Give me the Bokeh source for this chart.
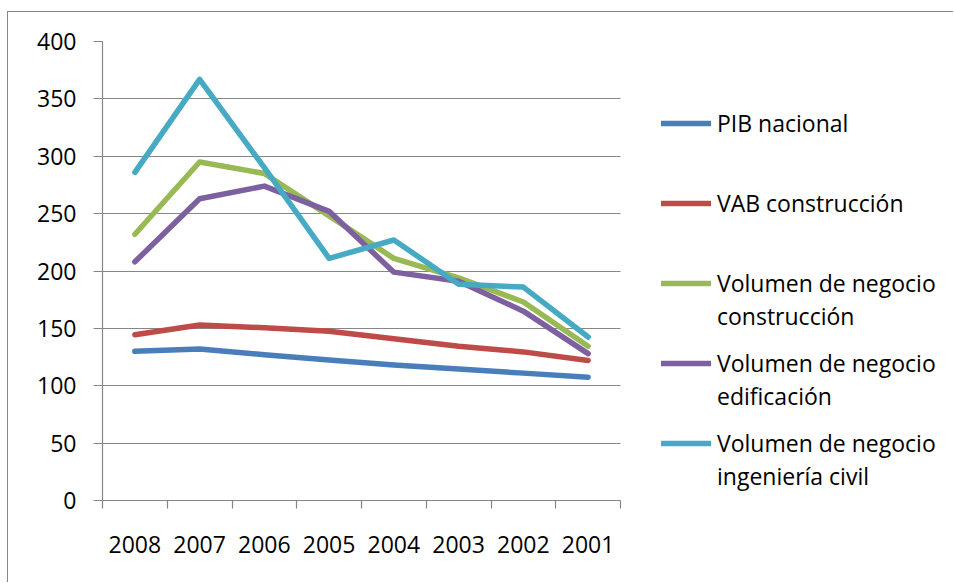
from bokeh.plotting import figure
from bokeh.models import Range1d, FixedTicker, Legend, LegendItem
from bokeh.embed import file_html
from bokeh.resources import INLINE

# ---- data ----
years = ["2008", "2007", "2006", "2005", "2004", "2003", "2002", "2001"]
pib_nacional = [130, 132, 127, 122.5, 118, 114.5, 111, 107.5]
vab_construccion = [144.5, 153, 150.5, 147.5, 141, 134.5, 129.5, 122]
vol_construccion = [232, 295, 285, 248, 211, 194, 173, 134.5]
vol_edificacion = [208, 263, 274, 252, 199, 191, 165, 128]
vol_ingenieria = [286, 367, 290, 211, 227, 188.5, 186, 142.5]
y_ticks = [0, 50, 100, 150, 200, 250, 300, 350, 400]

names_line1 = ["PIB nacional", "VAB construcción", "Volumen de negocio",
               "Volumen de negocio", "Volumen de negocio"]
names_line2 = ["construcción", "edificación", "ingeniería civil"]
colors = ["#4A7EBB", "#BE4B48", "#98B954", "#7D60A0", "#46AAC5"]
series = [pib_nacional, vab_construccion, vol_construccion, vol_edificacion, vol_ingenieria]

FONT = "Open Sans"
GRAY = "#868686"

n = len(years)
x = [i + 0.5 for i in range(n)]
bounds = list(range(n + 1))

# layout (pixels)
W, H = 946, 571
BL, BR, BT, BB = 94, 5, 29, 83
frame_w = W - BL - BR
plot_w = 518  # width of the category area
x_end = n * frame_w / plot_w

p = figure(width=W, height=H, output_backend="svg", toolbar_location=None,
           x_range=Range1d(0, x_end), y_range=Range1d(0, 400),
           min_border_left=BL, min_border_right=BR, min_border_top=BT, min_border_bottom=BB,
           styles={"border-left": "1px solid #868686", "border-top": "1px solid #868686",
                   "margin-left": "7px", "margin-top": "11px"})
p.outline_line_color = None
p.background_fill_color = "white"
p.border_fill_color = "white"

# grid
p.xgrid.visible = False
p.ygrid.ticker = FixedTicker(ticks=y_ticks)
p.ygrid.grid_line_color = GRAY
p.ygrid.grid_line_width = 1.2
p.ygrid.cross_bounds = (0, n)

# y axis
yax = p.yaxis[0]
yax.ticker = FixedTicker(ticks=y_ticks)
yax.axis_line_color = GRAY
yax.axis_line_width = 1.2
yax.major_tick_line_color = GRAY
yax.major_tick_line_width = 1.2
yax.major_tick_out = 9
yax.major_tick_in = 0
yax.minor_tick_line_color = None
yax.major_label_text_font = FONT
yax.major_label_text_font_size = "23px"
yax.major_label_text_color = "black"
yax.major_label_standoff = 17

# x axis
xax = p.xaxis[0]
xax.bounds = (0, n)
xax.ticker = FixedTicker(ticks=x, minor_ticks=bounds)
xax.major_label_overrides = {xi: yr for xi, yr in zip(x, years)}
xax.axis_line_color = GRAY
xax.axis_line_width = 1.2
xax.major_tick_line_color = None
xax.major_tick_out = 0
xax.major_tick_in = 0
xax.minor_tick_line_color = GRAY
xax.minor_tick_line_width = 1.2
xax.minor_tick_out = 8
xax.minor_tick_in = 0
xax.major_label_text_font = FONT
xax.major_label_text_font_size = "23px"
xax.major_label_text_color = "black"
xax.major_label_standoff = 27

renderers = []
for vals, c in zip(series, colors):
    r = p.line(x, vals, line_color=c, line_width=5.5, line_cap="round", line_join="round")
    renderers.append(r)

dummy = p.line([], [], line_alpha=0)

common = dict(orientation="vertical", padding=0, margin=0, spacing=40,
              label_height=40, glyph_height=40, glyph_width=50, label_standoff=6,
              border_line_color=None, background_fill_alpha=0,
              label_text_font=FONT, label_text_font_size="23px",
              label_text_color="black")

leg1 = Legend(items=[LegendItem(label=nm, renderers=[r]) for nm, r in zip(names_line1, renderers)],
              location=(559, 37), **common)
leg2 = Legend(items=[LegendItem(label=nm, renderers=[dummy]) for nm in names_line2],
              location=(559, 4), **common)
p.add_layout(leg1)
p.add_layout(leg2)

open("out.html", "w").write(file_html(p, INLINE))
